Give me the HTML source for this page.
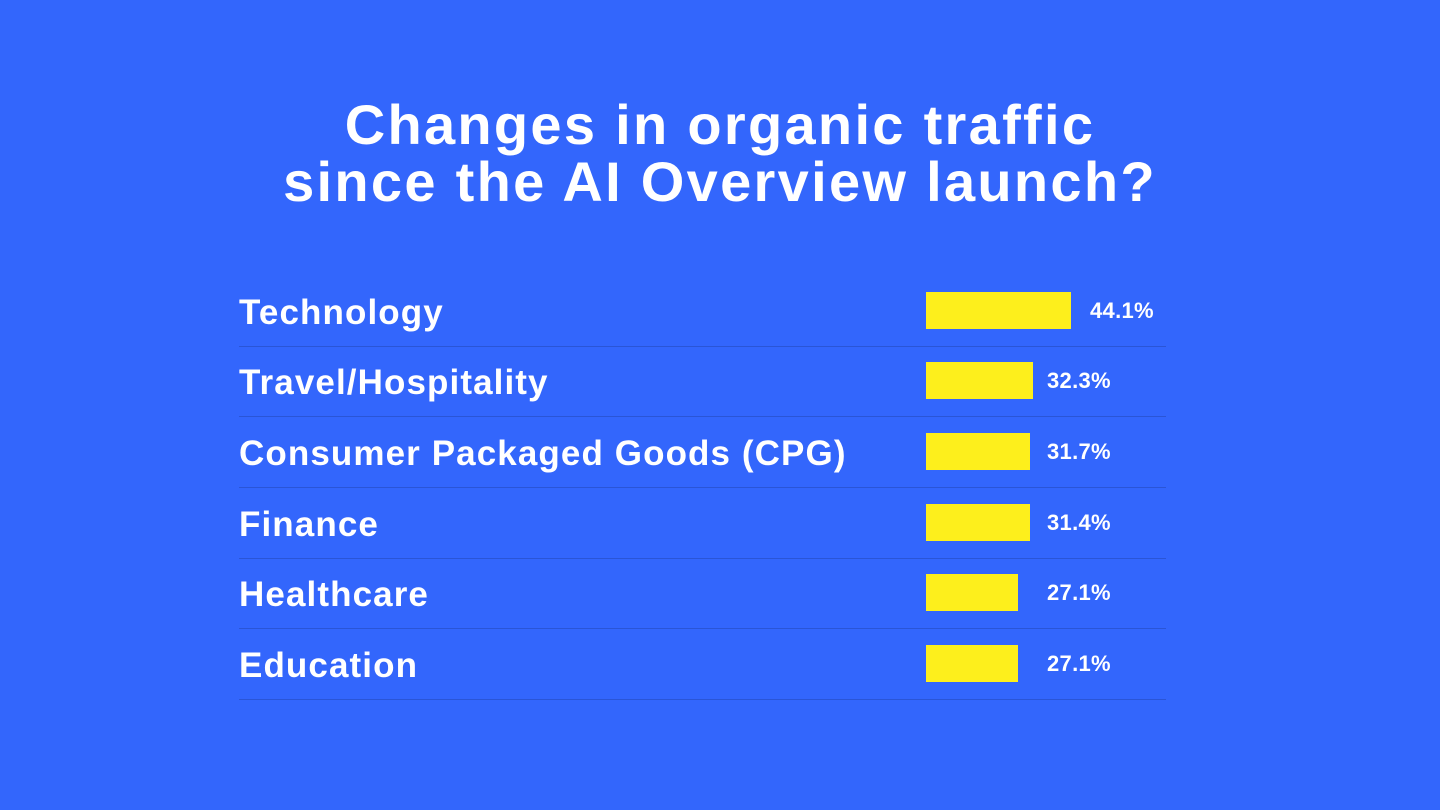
<!DOCTYPE html>
<html><head><style>
body{margin:0;width:1440px;height:810px;background:#3366fc;font-family:"Liberation Sans",sans-serif;color:#fff;position:relative;overflow:hidden}
.t{position:absolute;left:0;width:1440px;text-align:center;font-weight:bold;font-size:56px;line-height:57px;top:96px;letter-spacing:2.3px}
.row{position:absolute;left:239px;width:927px;height:70px;border-bottom:1.5px solid #2a55d6}
.lab{position:absolute;left:0;top:17px;font-size:35px;font-weight:bold;line-height:40px;letter-spacing:1.1px}
.bar{position:absolute;left:687px;top:16px;height:37px;background:#fdef1c}
.v{position:absolute;top:21px;font-size:22px;font-weight:bold;line-height:28px;letter-spacing:0.3px}
</style></head><body>
<div class="t">Changes in organic traffic<br>since the AI Overview launch?</div>
<div class="row" style="top:276px"><div class="lab">Technology</div><div class="bar" style="width:145px"></div><div class="v" style="left:851px">44.1%</div></div>
<div class="row" style="top:346px"><div class="lab">Travel/Hospitality</div><div class="bar" style="width:107px"></div><div class="v" style="left:808px">32.3%</div></div>
<div class="row" style="top:417px"><div class="lab">Consumer Packaged Goods (CPG)</div><div class="bar" style="width:104px"></div><div class="v" style="left:808px">31.7%</div></div>
<div class="row" style="top:488px"><div class="lab">Finance</div><div class="bar" style="width:104px"></div><div class="v" style="left:808px">31.4%</div></div>
<div class="row" style="top:558px"><div class="lab">Healthcare</div><div class="bar" style="width:92px"></div><div class="v" style="left:808px">27.1%</div></div>
<div class="row" style="top:629px"><div class="lab">Education</div><div class="bar" style="width:92px"></div><div class="v" style="left:808px">27.1%</div></div>
</body></html>
